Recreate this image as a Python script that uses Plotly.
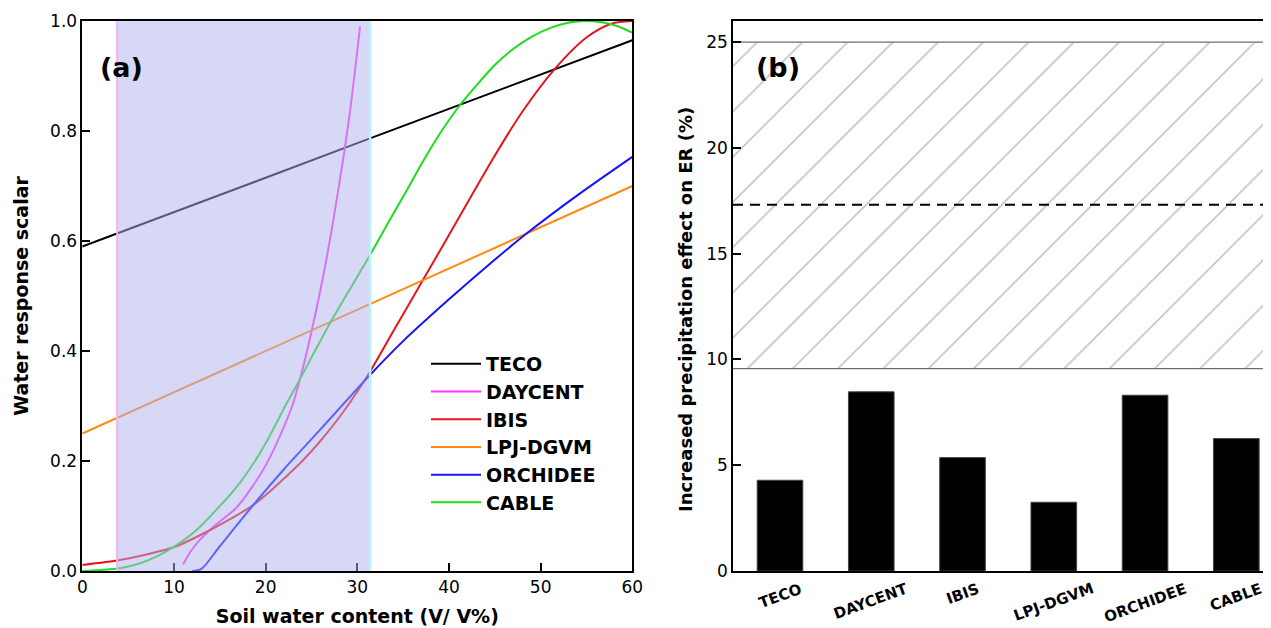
import plotly.graph_objects as go

# ---------------- Panel (a) data: water response curves ----------------
teco_x = [0, 10, 20, 30, 40, 50, 60]
teco_y = [0.590, 0.652, 0.715, 0.778, 0.840, 0.903, 0.965]

daycent_x = [11.0, 11.8, 12.8, 14.5, 16.8, 18.5, 20.0, 21.5, 23.0, 24.0, 25.0, 26.5, 28.1, 29.2, 30.3]
daycent_y = [0.012, 0.035, 0.056, 0.083, 0.115, 0.152, 0.192, 0.243, 0.305, 0.365, 0.435, 0.555, 0.711, 0.835, 0.99]

ibis_x = [0, 4.1, 7, 10.1, 14, 18.65, 20.5, 22, 24, 25.9, 28.5, 31.3, 34, 37.3, 40, 44.7, 48, 51.6, 55, 57.7, 60]
ibis_y = [0.011, 0.02, 0.03, 0.044, 0.075, 0.12, 0.145, 0.168, 0.2, 0.235, 0.29, 0.36, 0.438, 0.533, 0.611, 0.747,
          0.835, 0.914, 0.97, 0.995, 1.0]

lpj_x = [0, 10, 20, 30, 40, 50, 60]
lpj_y = [0.25, 0.325, 0.40, 0.475, 0.55, 0.625, 0.70]

orchidee_x = [12.0, 13.0, 15.0, 18.65, 22.0, 25.9, 31.3, 35.0, 40.0, 44.0, 48.5, 54.0, 60.0]
orchidee_y = [0.0, 0.004, 0.045, 0.12, 0.185, 0.256, 0.355, 0.418, 0.494, 0.552, 0.614, 0.683, 0.753]

cable_x = [0, 4.1, 6.3, 8.3, 10.3, 12.5, 15.0, 16.8, 18.65, 20.1, 22.3, 23.4, 27.0, 31.2, 33.6, 35.5, 37.0,
           39.0, 41.1, 43.0, 45.0, 47.0, 49.0, 51.0, 53.0, 55.0, 57.0, 58.5, 60.0]
cable_y = [0.0, 0.005, 0.014, 0.028, 0.047, 0.075, 0.118, 0.152, 0.195, 0.235, 0.305, 0.338, 0.45, 0.569, 0.64,
           0.695, 0.74, 0.795, 0.845, 0.883, 0.92, 0.949, 0.971, 0.987, 0.997, 1.0, 0.997, 0.99, 0.979]

shade_range = [3.8, 31.4]   # shaded soil-water range

# ---------------- Panel (b) data: bars ----------------
models = ["TECO", "DAYCENT", "IBIS", "LPJ-DGVM", "ORCHIDEE", "CABLE"]
effects = [4.29, 8.47, 5.36, 3.25, 8.31, 6.26]
obs_low, obs_high = 9.57, 25.0   # hatched observation band
obs_mean = 17.31                  # dashed line

FONT = "DejaVu Sans, Verdana, sans-serif"

# figure sits inside the page body (8px default body margin)
W, H = 1263, 620
OFF = 8


def px_x(p):
    return (p - OFF) / W


def px_y(p):
    return 1 - (p - OFF) / H


fig = go.Figure()

series = [
    ("TECO", teco_x, teco_y, "#000000", "linear"),
    ("DAYCENT", daycent_x, daycent_y, "#ff33ff", "spline"),
    ("IBIS", ibis_x, ibis_y, "#e8141c", "spline"),
    ("LPJ-DGVM", lpj_x, lpj_y, "#ff8a10", "linear"),
    ("ORCHIDEE", orchidee_x, orchidee_y, "#1414ff", "spline"),
    ("CABLE", cable_x, cable_y, "#1fdc1f", "spline"),
]
for name, xs, ys, col, shp in series:
    fig.add_trace(go.Scatter(
        x=xs, y=ys, mode="lines", name=name, legendgroup=name,
        line=dict(color=col, width=2, shape=shp, smoothing=0.8),
        xaxis="x", yaxis="y",
    ))

# hatched band in panel (b)
xmin_b, xmax_b = -0.515, 5.38
fig.add_trace(go.Scatter(
    x=[xmin_b, xmax_b, xmax_b, xmin_b, xmin_b],
    y=[obs_low, obs_low, obs_high, obs_high, obs_low],
    fill="toself", fillcolor="white",
    fillpattern=dict(shape="/", fgcolor="#8a8a8a", bgcolor="white", size=32, solidity=0.05),
    line=dict(width=0), mode="lines", showlegend=False, hoverinfo="skip",
    xaxis="x2", yaxis="y2",
))
for yy in (obs_low, obs_high):
    fig.add_trace(go.Scatter(
        x=[xmin_b, xmax_b], y=[yy, yy], mode="lines",
        line=dict(color="#6e6e6e", width=1.3), showlegend=False, hoverinfo="skip",
        xaxis="x2", yaxis="y2",
    ))
fig.add_trace(go.Scatter(
    x=[xmin_b, xmax_b], y=[obs_mean, obs_mean], mode="lines",
    line=dict(color="black", width=2, dash="10px,7px"), showlegend=False, hoverinfo="skip",
    xaxis="x2", yaxis="y2",
))
fig.add_trace(go.Bar(
    x=list(range(len(models))), y=effects, width=0.5,
    marker=dict(color="black", line=dict(color="#444", width=1)),
    showlegend=False, xaxis="x2", yaxis="y2",
))

# shaded region in panel (a)
fig.add_shape(type="rect", xref="x", yref="y", x0=shade_range[0], x1=shade_range[1], y0=0, y1=1,
              fillcolor="rgba(175,178,235,0.5)", line=dict(width=0), layer="above")
fig.add_shape(type="line", xref="x", yref="y", x0=shade_range[0], x1=shade_range[0], y0=0, y1=1,
              line=dict(color="#f3b2f3", width=2), layer="above")
fig.add_shape(type="line", xref="x", yref="y", x0=shade_range[1], x1=shade_range[1], y0=0, y1=1,
              line=dict(color="#b4f4fa", width=2.5), layer="above")

# category labels (rotated)
for i, m in enumerate(models):
    fig.add_annotation(x=i, y=px_y(577), xref="x2", yref="paper", text=m, showarrow=False,
                       textangle=-20, yanchor="top", xanchor="center",
                       font=dict(family=FONT, size=15, color="black", weight="bold"))

fig.add_annotation(x=1.7, y=0.915, xref="x", yref="y", text="(a)", showarrow=False,
                   xanchor="left", yanchor="middle",
                   font=dict(family=FONT, size=27, color="black", weight="bold"))
fig.add_annotation(x=-0.28, y=23.8, xref="x2", yref="y2", text="(b)", showarrow=False,
                   xanchor="left", yanchor="middle",
                   font=dict(family=FONT, size=27, color="black", weight="bold"))
# y title of panel (b)
fig.add_annotation(x=px_x(685), y=px_y(310), xref="paper", yref="paper",
                   text="Increased precipitation effect on ER (%)", showarrow=False,
                   textangle=-90, xanchor="center", yanchor="middle",
                   font=dict(family=FONT, size=18, color="black", weight="bold"))

ydom = [px_y(571), px_y(21)]
axis_common = dict(showline=True, linecolor="black", linewidth=1.5, ticks="inside",
                   ticklen=8, tickwidth=1.5, tickcolor="black", showgrid=False, zeroline=False,
                   tickfont=dict(family=FONT, size=17, color="black"), automargin=False)

fig.update_layout(
    width=W, height=H,
    margin=dict(l=0, r=0, t=0, b=0),
    paper_bgcolor="white", plot_bgcolor="white",
    font=dict(family=FONT, color="black"),
    xaxis=dict(domain=[px_x(82.3), px_x(632.3)], range=[0, 60], dtick=10, mirror=True,
               title=dict(text="Soil water content (V/ V%)", standoff=14,
                          font=dict(family=FONT, size=19, weight="bold")),
               anchor="y", **axis_common),
    yaxis=dict(domain=ydom, range=[0, 1], dtick=0.2, tickformat=".1f", mirror=True,
               title=dict(text="Water response scalar", standoff=16,
                          font=dict(family=FONT, size=19, weight="bold")),
               anchor="x", **axis_common),
    xaxis2=dict(domain=[px_x(733), 1.0], range=[xmin_b, xmax_b], mirror=True,
                showticklabels=False, anchor="y2",
                **{k: v for k, v in axis_common.items() if k != "ticks"}, ticks=""),
    yaxis2=dict(domain=ydom, range=[0, 26], tickvals=[0, 5, 10, 15, 20, 25],
                anchor="x2", **axis_common),
    legend=dict(x=px_x(426), y=px_y(345), xanchor="left", yanchor="top",
                bgcolor="rgba(0,0,0,0)", borderwidth=0, itemwidth=50,
                traceorder="grouped", tracegroupgap=0,
                font=dict(family=FONT, size=19, color="black", weight="bold")),
)

fig.write_html("out.html")
